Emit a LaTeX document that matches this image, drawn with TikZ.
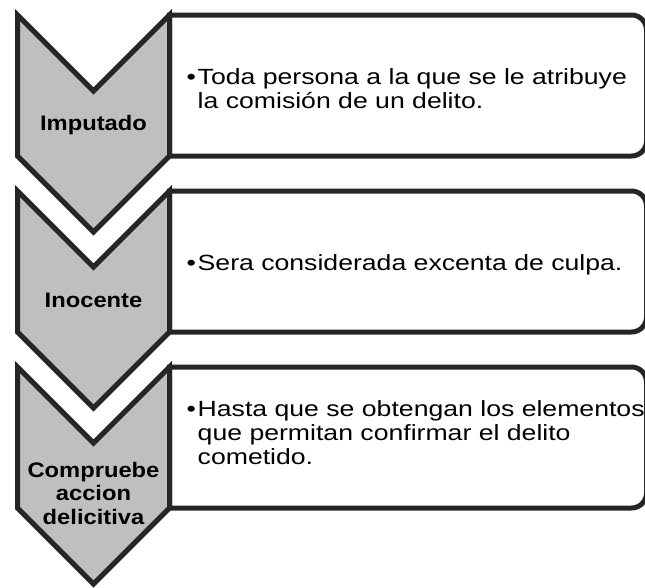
\documentclass[tikz,border=0pt]{standalone}
\usepackage{fontspec}
\usepackage{graphicx}
\setmainfont{Liberation Sans}
\definecolor{lineC}{HTML}{262626}
\definecolor{chevC}{HTML}{BFBFBF}
\tikzset{
  chevron/.style={draw=lineC, fill=chevC, line width=5pt, line join=miter},
  infobox/.style={draw=lineC, fill=white, line width=5pt, line join=miter},
  bodytxt/.style={inner sep=0pt, anchor=west, text=black},
  labeltxt/.style={inner sep=0pt, anchor=center, text=black}
}
\newcommand{\bodyblock}[1]{\scalebox{1.21}[1]{\fontsize{22}{24}\selectfont\begin{tabular}{@{}l@{}l@{}}#1\end{tabular}}}
\newcommand{\bul}{\makebox[9.2pt][l]{•}}
\newcommand{\labelblock}[2]{\scalebox{1.13}[1]{\fontsize{21}{#1}\selectfont\bfseries\begin{tabular}{@{}c@{}}#2\end{tabular}}}
\begin{document}
\begin{tikzpicture}[x=1pt,y=-1pt]
\useasboundingbox (0,0) rectangle (645,587);
% boxes
\foreach \T/\B in {15/156, 191/332, 367/508}{
  \draw[infobox] (169.5,\T) -- (631.5,\T) .. controls (639.8,\T) and (646.5,\T+6.7) .. (646.5,\T+15)
    -- (646.5,\B-15) .. controls (646.5,\B-6.7) and (639.8,\B) .. (631.5,\B) -- (169.5,\B) -- cycle;
}
% chevrons
\foreach \T in {15,191,367}{
  \draw[chevron] (17.5,\T) -- (93.5,\T+76) -- (169.5,\T) -- (169.5,\T+141)
    -- (93.5,\T+217) -- (17.5,\T+141) -- cycle;
}
% chevron labels
\node[labeltxt] (l1) at (93.5,125.2) {\labelblock{24}{Imputado}};
\node[labeltxt] (l2) at (93.5,302.2) {\labelblock{24}{Inocente}};
\node[labeltxt] (l3) at (93.5,495.8) {\labelblock{23.5}{Compruebe\\accion\\delicitiva}};
% box texts
\node[bodytxt] (t1) at (186.4,91.2) {\bodyblock{\bul & Toda persona a la que se le atribuye\\ & la comisión de un delito.}};
\node[bodytxt] (t2) at (186.4,265.2) {\bodyblock{\bul & Sera considerada excenta de culpa.}};
\node[bodytxt] (t3) at (186.4,435.2) {\bodyblock{\bul & Hasta que se obtengan los elementos\\ & que permitan confirmar el delito\\ & cometido.}};
\end{tikzpicture}
\end{document}
